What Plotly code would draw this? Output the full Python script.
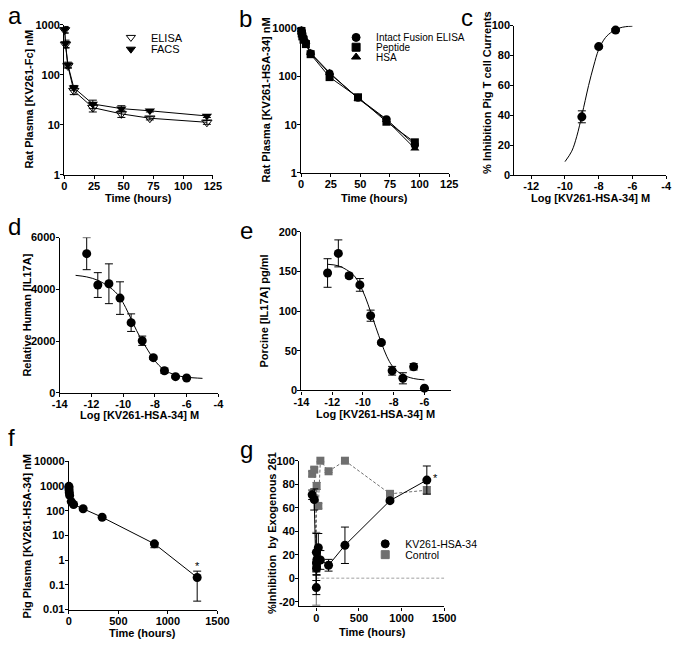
import plotly.graph_objects as go

W, H = 683, 647
FONT = "Liberation Sans, Arial, sans-serif"

# -----------------------------------------------------------------------------
# DATA

# a - rat plasma KV261-Fc
a_time = [0.25, 1, 3, 8, 24, 48, 72, 120]
a_elisa = [780, 400, 150, 48, 22, 16.5, 13.5, 11.2]
a_elisa_err = [100, 60, 15, 8, 4, 2.5, 1, 1]
a_facs = [800, 420, 158, 55, 26, 21, 19, 15]
a_facs_err = [120, 70, 20, 6, 5, 3, 1, 1]

# b - rat plasma KV261-HSA-34
b_time = [0.25, 0.5, 1, 2, 4, 8, 24, 48, 72, 96]
b_intact = [900, 820, 720, 620, 500, 300, 115, 36, 13, 3.8]
b_peptide = [880, 780, 680, 580, 470, 290, 97, 37, 11.5, 4.3]
b_hsa = [920, 840, 740, 640, 520, 310, 120, 35, 12.5, 3.2]

# c - inhibition of pig T cell currents
c_logconc = [-9, -8, -7]
c_inhib = [39, 86, 97]
c_err = [4, 1, 1]
c_fit_x = [-10, -9.6, -9.3, -9, -8.8, -8.6, -8.3, -8, -7.6, -7.2, -6.8, -6.4, -6]
c_fit_y = [9, 16, 26, 40, 50, 60, 73, 84, 92, 96, 98.3, 99.3, 99.7]

# d - relative human IL17A
d_logconc = [-12.3, -11.6, -10.9, -10.2, -9.5, -8.8, -8.1, -7.4, -6.7, -6.0]
d_il17a = [5380, 4165, 4215, 3660, 2710, 2010, 1355, 850, 620, 570]
d_err = [620, 480, 770, 630, 340, 180, 60, 100, 40, 30]
d_fit_x = [-13, -12.3, -11.6, -10.9, -10.5, -10.2, -9.85, -9.5, -9.15, -8.8,
           -8.45, -8.1, -7.75, -7.4, -6.7, -6, -5]
d_fit_y = [4540, 4480, 4350, 4100, 3900, 3680, 3300, 2850, 2400, 2000,
           1650, 1320, 1060, 880, 680, 600, 555]

# e - porcine IL17A
e_logconc = [-12.3, -11.6, -10.9, -10.2, -9.5, -8.8, -8.1, -7.4, -6.7, -6.0]
e_il17a = [148, 172.7, 144.6, 133, 94.2, 60.3, 24.8, 15.3, 29.8, 2.9]
e_err = [18, 17, 3, 8, 7, 2, 5.5, 7, 4, 1]
e_fit_x = [-12.3, -11.6, -10.9, -10.5, -10.2, -9.85, -9.5, -9.15, -8.8, -8.45,
           -8.1, -7.75, -7.4, -6.7, -6]
e_fit_y = [159, 157, 150, 143, 133, 118, 99, 79, 60, 43, 31, 24, 19.5, 15, 13.3]

# f - pig plasma KV261-HSA-34
f_time = [0.25, 1, 2, 4, 8, 24, 48, 144, 336, 864, 1296]
f_conc = [980, 850, 690, 540, 420, 236, 180, 121, 55, 4.6, 0.2]
f_err_up = [60, 50, 40, 30, 25, 20, 15, 10, 6, 0.6, 0.16]
f_err_down = [60, 50, 40, 30, 25, 20, 15, 10, 6, 1.4, 0.178]

# g - % inhibition by exogenous 261
g_kv_time = [-48, -24, 0.5, 1, 2, 4, 8, 24, 48, 144, 336, 864, 1296]
g_kv = [71, 67, -8, 22, 13, 8.5, 16, 26, 15.5, 11, 28, 66, 83.5]
g_kv_err = [4, 9, 6, 16, 10, 6, 6, 12, 8, 5, 15.5, 1.5, 12]
g_ctrl_time = [-48, -24, 0, 4, 24, 48, 144, 336, 864, 1296]
g_ctrl = [88.8, 92.4, 8, 78.5, 61.5, 100, 91, 100, 71.8, 74.9]
g_ctrl_err = [2, 2, 31, 3, 2, 1, 1, 1, 2, 3]
g_zero_x = [0, 1500]
g_zero_y = [0, 0]

# tick labels (plain hyphen minus, as in the figure)
log_ticks = [-14, -12, -10, -8, -6, -4]
log_ticktext = ["-14", "-12", "-10", "-8", "-6", "-4"]

GREY = "#6f6f6f"

# -----------------------------------------------------------------------------
# HELPERS


def dom_x(p0, p1):
    return [p0 / W, p1 / W]


def dom_y(top, bottom):
    return [1 - bottom / H, 1 - top / H]


def axis(domain, anchor, **kw):
    d = dict(domain=domain, anchor=anchor, showline=True, linecolor="black",
             linewidth=1.3, ticks="outside", ticklen=3, tickwidth=1.3,
             tickcolor="black", showgrid=False, zeroline=False, ticklabelstandoff=-2,
             tickfont=dict(family=FONT, size=11, color="black", weight="bold"))
    d.update(kw)
    return d


def err(vals, minus=None, color="black"):
    e = dict(type="data", array=vals, color=color, thickness=1, width=4)
    if minus is not None:
        e["arrayminus"] = minus
    return e


fig = go.Figure()

# -----------------------------------------------------------------------------
# a
fig.add_trace(go.Scatter(x=a_time, y=a_elisa, error_y=err(a_elisa_err), mode="lines+markers",
                         line=dict(color="black", width=1),
                         marker=dict(symbol="triangle-down-open", size=9, color="black",
                                     line=dict(width=1)),
                         xaxis="x", yaxis="y", cliponaxis=False, showlegend=False))
fig.add_trace(go.Scatter(x=a_time, y=a_facs, error_y=err(a_facs_err), mode="lines+markers",
                         line=dict(color="black", width=1),
                         marker=dict(symbol="triangle-down", size=9, color="black"),
                         xaxis="x", yaxis="y", cliponaxis=False, showlegend=False))

# b
for vals, sym in [(b_intact, "circle"), (b_peptide, "square"), (b_hsa, "triangle-up")]:
    fig.add_trace(go.Scatter(x=b_time, y=vals, mode="lines+markers",
                             line=dict(color="black", width=1),
                             marker=dict(symbol=sym, size=8, color="black"),
                             xaxis="x2", yaxis="y2", cliponaxis=False, showlegend=False))

# c
fig.add_trace(go.Scatter(x=c_fit_x, y=c_fit_y, mode="lines", line=dict(color="black", width=1, shape="spline"),
                         xaxis="x3", yaxis="y3", showlegend=False))
fig.add_trace(go.Scatter(x=c_logconc, y=c_inhib, error_y=err(c_err), mode="markers",
                         marker=dict(symbol="circle", size=9, color="black"),
                         xaxis="x3", yaxis="y3", cliponaxis=False, showlegend=False))

# d
fig.add_trace(go.Scatter(x=d_fit_x, y=d_fit_y, mode="lines", line=dict(color="black", width=1, shape="spline"),
                         xaxis="x4", yaxis="y4", showlegend=False))
fig.add_trace(go.Scatter(x=d_logconc, y=d_il17a, error_y=err(d_err), mode="markers",
                         marker=dict(symbol="circle", size=9, color="black"),
                         xaxis="x4", yaxis="y4", cliponaxis=False, showlegend=False))

# e
fig.add_trace(go.Scatter(x=e_fit_x, y=e_fit_y, mode="lines", line=dict(color="black", width=1, shape="spline"),
                         xaxis="x5", yaxis="y5", showlegend=False))
fig.add_trace(go.Scatter(x=e_logconc, y=e_il17a, error_y=err(e_err), mode="markers",
                         marker=dict(symbol="circle", size=9, color="black"),
                         xaxis="x5", yaxis="y5", cliponaxis=False, showlegend=False))

# f
fig.add_trace(go.Scatter(x=f_time, y=f_conc, error_y=err(f_err_up, f_err_down), mode="lines+markers",
                         line=dict(color="black", width=1),
                         marker=dict(symbol="circle", size=9, color="black"),
                         xaxis="x6", yaxis="y6", cliponaxis=False, showlegend=False))

# g
fig.add_trace(go.Scatter(x=g_zero_x, y=g_zero_y, mode="lines",
                         line=dict(color="#888888", width=0.8, dash="3px,2px"),
                         xaxis="x7", yaxis="y7", showlegend=False, hoverinfo="skip"))
fig.add_trace(go.Scatter(x=g_ctrl_time, y=g_ctrl, error_y=err(g_ctrl_err, color=GREY),
                         mode="lines+markers",
                         line=dict(color=GREY, width=1, dash="3px,2px"),
                         marker=dict(symbol="square", size=8, color=GREY),
                         xaxis="x7", yaxis="y7", cliponaxis=False, showlegend=False))
fig.add_trace(go.Scatter(x=g_kv_time, y=g_kv, error_y=err(g_kv_err), mode="lines+markers",
                         line=dict(color="black", width=1),
                         marker=dict(symbol="circle", size=9, color="black"),
                         xaxis="x7", yaxis="y7", cliponaxis=False, showlegend=False))

# -----------------------------------------------------------------------------
# LEGENDS (one legend box per entry so spacing follows the figure)
legend_items = [
    ("ELISA", "triangle-down-open", "black", "x", "y", 106, 32, 11),
    ("FACS", "triangle-down", "black", "x", "y", 106, 44, 11),
    ("Intact Fusion ELISA", "circle", "black", "x2", "y2", 338, 32, 10),
    ("Peptide", "square", "black", "x2", "y2", 338, 42, 10),
    ("HSA", "triangle-up", "black", "x2", "y2", 338, 52, 10),
    ("KV261-HSA-34", "circle", "black", "x7", "y7", 368, 548, 10.5),
    ("Control", "square", GREY, "x7", "y7", 368, 559, 10.5),
]
legend_layout = {}
for i, (name, sym, col, xa, ya, lx, ly, fs) in enumerate(legend_items):
    key = "legend" if i == 0 else "legend%d" % (i + 1)
    fig.add_trace(go.Scatter(x=[None], y=[None], mode="markers", name=name,
                             marker=dict(symbol=sym, size=8, color=col, line=dict(width=1, color=col)),
                             xaxis=xa, yaxis=ya, legend=key, showlegend=True))
    legend_layout[key] = dict(x=lx / W, y=1 - ly / H, xanchor="left", yanchor="middle",
                              bgcolor="rgba(0,0,0,0)", borderwidth=0, itemwidth=30,
                              font=dict(family=FONT, size=fs, color="black"))

# -----------------------------------------------------------------------------
# LAYOUT
layout = dict(
    width=W, height=H, margin=dict(l=0, r=0, t=0, b=0),
    paper_bgcolor="white", plot_bgcolor="white",
    xaxis=axis(dom_x(58, 211), "y", range=[0, 125], tickvals=[0, 25, 50, 75, 100, 125]),
    yaxis=axis(dom_y(19, 172), "x", type="log", range=[0, 3], tickvals=[1, 10, 100, 1000],
               ticktext=["1", "10", "100", "1000"]),
    xaxis2=axis(dom_x(302, 454.5), "y2", range=[0, 125], tickvals=[0, 25, 50, 75, 100, 125]),
    yaxis2=axis(dom_y(22.7, 170), "x2", type="log", range=[0, 3], tickvals=[1, 10, 100, 1000],
                ticktext=["1", "10", "100", "1000"]),
    xaxis3=axis(dom_x(521.7, 678), "y3", range=[-13, -4], tickvals=log_ticks[1:],
                ticktext=log_ticktext[1:]),
    yaxis3=axis(dom_y(20, 172.3), "x3", range=[0, 100], tickvals=[0, 20, 40, 60, 80, 100]),
    xaxis4=axis(dom_x(53.3, 216.7), "y4", range=[-14, -4], tickvals=log_ticks,
                ticktext=log_ticktext),
    yaxis4=axis(dom_y(236, 394), "x4", range=[0, 6000], tickvals=[0, 2000, 4000, 6000]),
    xaxis5=axis(dom_x(302.3, 455.9), "y5", range=[-14, -4.3], tickvals=log_ticks[:-1],
                ticktext=log_ticktext[:-1]),
    yaxis5=axis(dom_y(230, 391.7), "x5", range=[0, 200], tickvals=[0, 50, 100, 150, 200]),
    xaxis6=axis(dom_x(62.7, 215.7), "y6", range=[0, 1500], tickvals=[0, 500, 1000, 1500]),
    yaxis6=axis(dom_y(464, 615), "x6", type="log", range=[-2, 4],
                tickvals=[0.01, 0.1, 1, 10, 100, 1000, 10000],
                ticktext=["0.01", "0.1", "1", "10", "100", "1000", "10000"]),
    xaxis7=axis(dom_x(300, 449.4), "y7", range=[-200, 1500], tickvals=[0, 500, 1000, 1500]),
    yaxis7=axis(dom_y(463.3, 611.7), "x7", range=[-24, 100], tickvals=[-20, 0, 20, 40, 60, 80, 100],
                ticktext=["-20", "0", "20", "40", "60", "80", "100"]),
)
layout.update(legend_layout)
fig.update_layout(**layout)

# -----------------------------------------------------------------------------
# TEXT: panel letters, axis titles, asterisks
panel_letters = [("a", 7, 10), ("b", 245, 13), ("c", 473, 12), ("d", 7, 225),
                 ("e", 246, 229), ("f", 4, 440), ("g", 246, 452)]
for txt, px, py in panel_letters:
    fig.add_annotation(text=txt, x=px / W, y=1 - py / H, xref="paper", yref="paper",
                       xanchor="center", yanchor="middle", showarrow=False,
                       font=dict(family=FONT, size=24, color="black"))

title_font = dict(family=FONT, size=11, color="black", weight="bold")
x_titles = [("Time (hours)", 134.5, 196), ("Time (hours)", 378, 196),
            ("Log [KV261-HSA-34] M", 600, 196), ("Log [KV261-HSA-34] M", 135, 417),
            ("Log [KV261-HSA-34] M", 379, 416), ("Time (hours)", 139, 639),
            ("Time (hours)", 375, 638)]
for txt, px, py in x_titles:
    fig.add_annotation(text=txt, x=px / W, y=1 - py / H, xref="paper", yref="paper",
                       xanchor="center", yanchor="middle", showarrow=False, font=title_font)

y_titles = [("Rat Plasma [KV261-Fc] nM", 22, 95), ("Rat Plasma [KV261-HSA-34] nM", 266, 96),
            ("% Inhibition Pig T cell Currents", 494, 88), ("Relative Human [IL17A]", 20, 315),
            ("Porcine [IL17A] pg/ml", 264, 311), ("Pig Plasma [KV261-HSA-34] nM", 20, 540),
            ("%Inhibition  by Exogenous 261", 272, 537)]
for txt, px, py in y_titles:
    fig.add_annotation(text=txt, x=px / W, y=1 - py / H, xref="paper", yref="paper",
                       xanchor="center", yanchor="middle", showarrow=False, textangle=-90,
                       font=title_font)

fig.add_annotation(text="*", x=1296, y=-0.22, xref="x6", yref="y6", showarrow=False,
                   font=dict(family=FONT, size=11, color="black"))
fig.add_annotation(text="*", x=1400, y=85, xref="x7", yref="y7", showarrow=False,
                   font=dict(family=FONT, size=11, color="black"))

# page body has a default 8px margin; drop it so the figure sits at the window corner
fig.write_html("out.html", config={"displayModeBar": False},
               post_script="document.body.style.margin='0';")
